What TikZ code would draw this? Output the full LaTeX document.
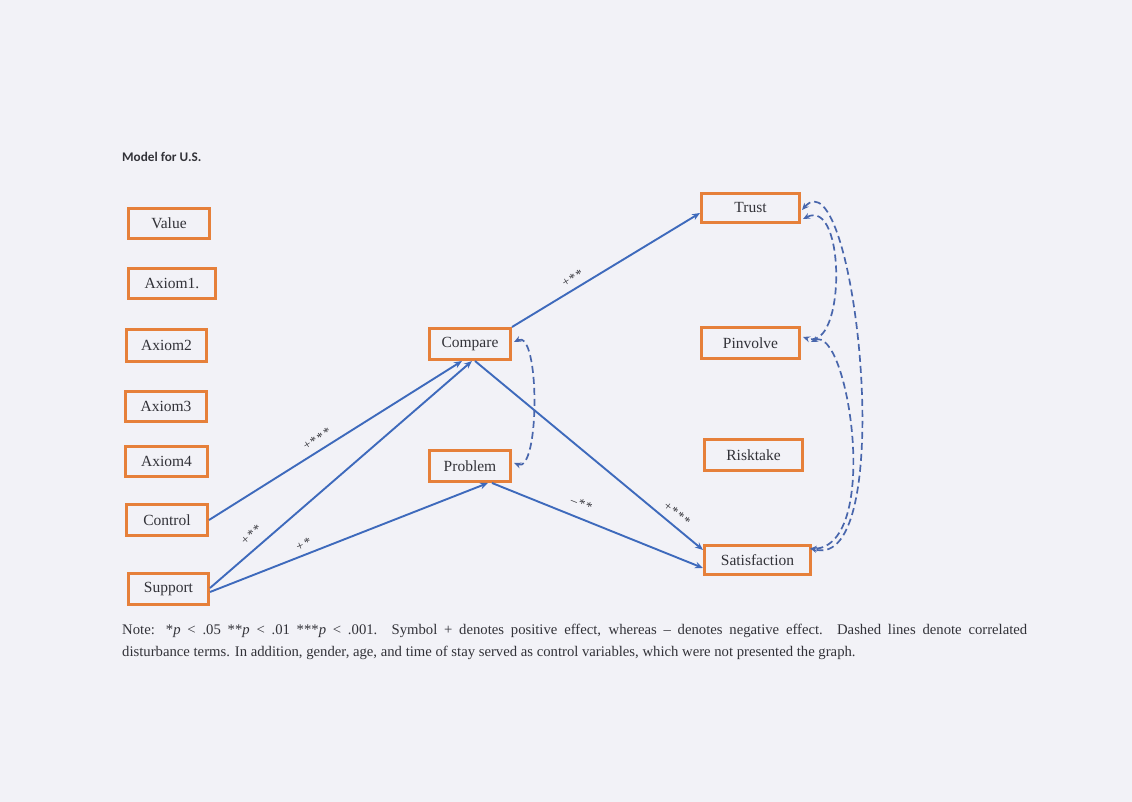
\documentclass[tikz,border=0pt]{standalone}
\usepackage{fontspec}
\setmainfont{Liberation Serif}
\newfontfamily\titlefont{Carlito}
\usetikzlibrary{arrows.meta}
\definecolor{boxorange}{RGB}{230,128,58}
\definecolor{pathblue}{RGB}{62,106,188}
\definecolor{corrblue}{RGB}{72,102,172}
\definecolor{bgpaper}{RGB}{242,242,247}
\definecolor{inkgray}{RGB}{50,50,56}
\newcommand{\sk}{\kern1.2pt}
\tikzset{
  var/.style={draw=boxorange, line width=3pt, text=inkgray,
    font=\fontsize{15.5}{17}\selectfont, inner sep=0pt},
  effect/.style={draw=pathblue, line width=1.9pt, -{Stealth[length=8pt,width=6.5pt]}},
  corr/.style={draw=corrblue, line width=1.7pt, dash pattern=on 7pt off 4pt,
    {Stealth[length=7pt,width=6pt]}-{Stealth[length=7pt,width=6pt]}},
  lab/.style={text=inkgray, font=\fontsize{13}{14}\selectfont, inner sep=1pt, sloped},
  notetext/.style={text=inkgray, font=\fontsize{14.7}{16}\selectfont, inner sep=0pt, anchor=west}
}
\begin{document}
\begin{tikzpicture}[x=1pt,y=-1pt]
\fill[bgpaper] (0,0) rectangle (1132,802);
\useasboundingbox (0,0) rectangle (1132,802);

\node[text=inkgray, font=\titlefont\bfseries\fontsize{13.2}{15}\selectfont, anchor=west, inner sep=0pt] (title) at (122,157) {Model for U.S.};

% left column
\node[var, minimum width=81pt, minimum height=30pt] (val) at (169,223.5) {Value};
\node[var, minimum width=87pt, minimum height=30pt] (ax1) at (172,283.5) {Axiom1.};
\node[var, minimum width=80pt, minimum height=32pt] (ax2) at (166.5,345.5) {Axiom2};
\node[var, minimum width=81pt, minimum height=30pt] (ax3) at (166,406.5) {Axiom3};
\node[var, minimum width=82pt, minimum height=30pt] (ax4) at (166.5,461.5) {Axiom4};
\node[var, minimum width=81pt, minimum height=31pt] (ctl) at (167,520) {Control};
\node[var, minimum width=80pt, minimum height=31pt] (sup) at (168.5,589) {Support};

% middle
\node[var, minimum width=81pt, minimum height=31pt] (cmp) at (470,344) {Compare};
\node[var, minimum width=81pt, minimum height=31pt] (prb) at (470,466) {Problem};

% right
\node[var, minimum width=98pt, minimum height=29pt] (tru) at (750.5,208) {Trust};
\node[var, minimum width=98pt, minimum height=31pt] (pin) at (750.5,343) {Pinvolve};
\node[var, minimum width=98pt, minimum height=31pt] (rsk) at (753.5,455) {Risktake};
\node[var, minimum width=106pt, minimum height=29pt] (sat) at (757.5,560) {Satisfaction};

% structural paths
\draw[effect] (ctl.east) -- node[lab, pos=0.45, above=5pt] {+\sk*\sk*\sk*} ([xshift=-8pt]cmp.south);
\draw[effect] ([yshift=1pt]sup.east) -- node[lab, pos=0.19, above=7pt] {+\sk*\sk*} ([xshift=2pt]cmp.south);
\draw[effect] ([yshift=-3pt]sup.east) -- node[lab, pos=0.35, above=4pt] {+\sk*} ([xshift=18pt]prb.south);
\draw[effect] (cmp.north east) -- node[lab, pos=0.35, above=4pt] {+\sk*\sk*} ([yshift=-5pt]tru.west);
\draw[effect] ([xshift=5pt]cmp.south) -- node[lab, pos=0.855, above=5pt] {+\sk*\sk*\sk*} ([yshift=10pt]sat.west);
\draw[effect] ([xshift=22pt]prb.south) -- node[lab, pos=0.40, above=8pt] {–\sk*\sk*} ([yshift=-8pt]sat.west);

% correlated disturbances
\draw[corr] ([xshift=2pt,yshift=2pt]cmp.east) .. controls +(26,-13) and +(26,10) .. ([xshift=2pt,yshift=3pt]prb.east);
\draw[corr] ([xshift=2pt,yshift=-11pt]tru.east) .. controls +(43,-22) and +(43,15) .. ([xshift=2pt,yshift=6pt]pin.east);
\draw[corr] ([xshift=1pt,yshift=-2pt]tru.east) .. controls +(53,-60) and +(90,27) .. ([xshift=-2pt,yshift=12pt]sat.east);
\draw[corr] ([xshift=10pt,yshift=1pt]pin.east) .. controls +(37,-18) and +(72,-3) .. ([xshift=-2pt,yshift=11pt]sat.east);

% note
\node[notetext] (note1) at (122,631) {\makebox[905pt][s]{Note: *\textit{p} < .05 **\textit{p} < .01 ***\textit{p} < .001. Symbol + denotes positive effect, whereas – denotes negative effect. Dashed lines denote correlated}};
\node[notetext] (note2) at (122,653) {disturbance terms. In addition, gender, age, and time of stay served as control variables, which were not presented the graph.};
\end{tikzpicture}
\end{document}
